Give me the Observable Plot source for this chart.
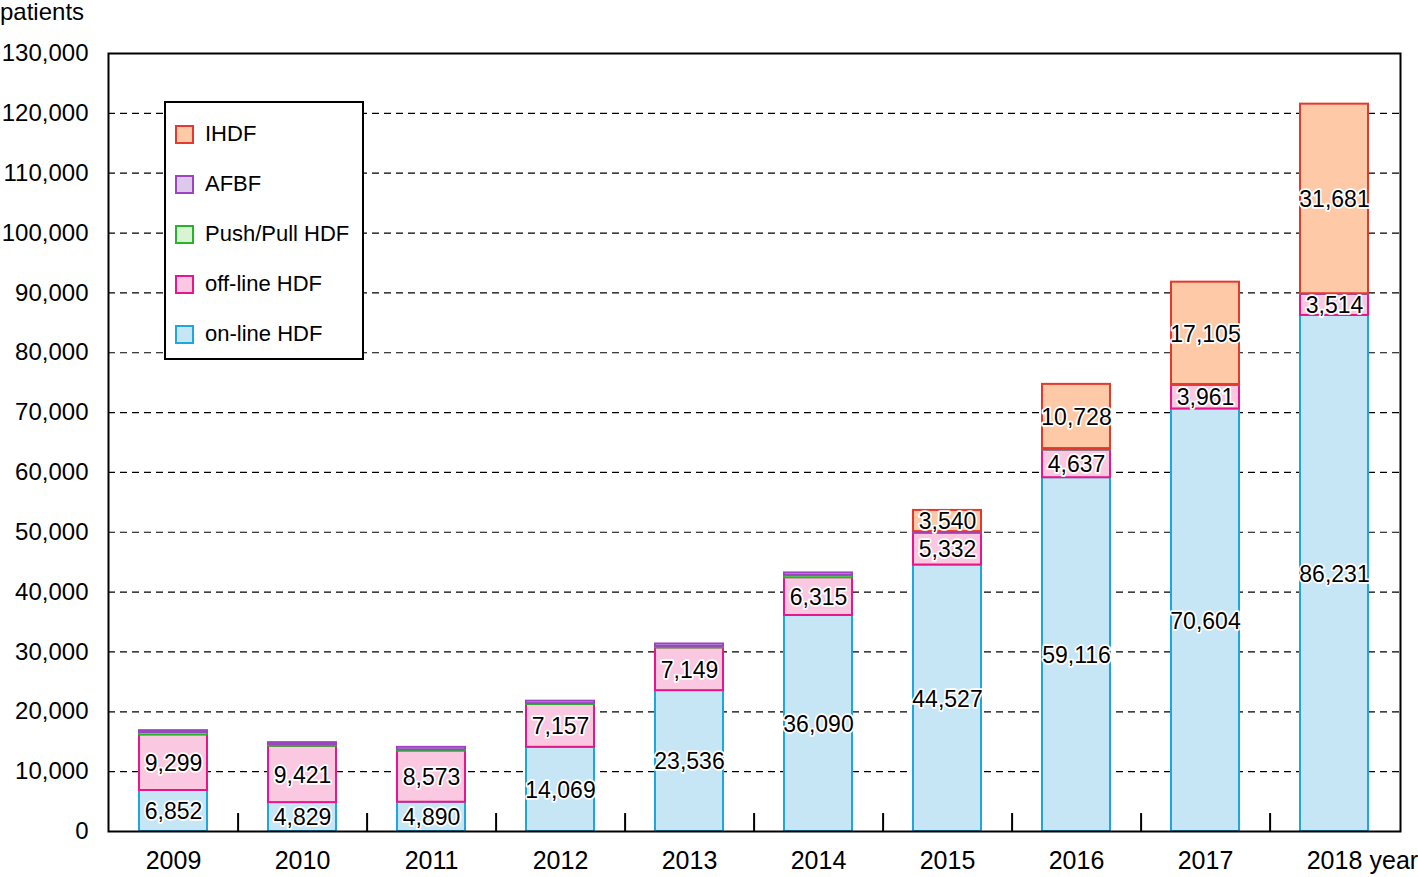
<!DOCTYPE html>
<html>
<head>
<meta charset="utf-8">
<script src="https://cdn.jsdelivr.net/npm/d3@7"></script>
<script src="https://cdn.jsdelivr.net/npm/@observablehq/plot@0.6"></script>
<style>
  body { margin: 0; background: #fff; font-family: "Liberation Sans", Arial, sans-serif; }
  #wrap { position: relative; width: 1418px; height: 877px; }
  #ylabel { position: absolute; left: 0; top: -1px; font-size: 24px; line-height: 26px; color: #000; }
  #legend { position: absolute; left: 164px; top: 101px; width: 196px; height: 255px; border: 2px solid #000; background: #fff; }
  .item { position: absolute; left: 9px; height: 24px; display: flex; align-items: center; font-size: 22px; }
  .sw { width: 15px; height: 15px; border: 2px solid; margin-right: 11px; }
</style>
</head>
<body>
<div id="wrap">
  <div id="chart"></div>
  <div id="ylabel">patients</div>
  <div id="legend"></div>
</div>
<script>
const years = ["2009","2010","2011","2012","2013","2014","2015","2016","2017","2018"];
const onlineHDF  = [6852, 4829, 4890, 14069, 23536, 36090, 44527, 59116, 70604, 86231];
const offlineHDF = [9299, 9421, 8573, 7157, 7149, 6315, 5332, 4637, 3961, 3514];
const pushPullHDF = [400, 300, 200, 150, 250, 400, 50, 30, 20, 10];
const AFBF = [300, 300, 400, 400, 400, 400, 200, 200, 100, 100];
const IHDF = [0, 0, 0, 0, 0, 0, 3540, 10728, 17105, 31681];
const yTicks = d3.range(0, 130001, 10000);

const seriesNames = ["on-line HDF", "off-line HDF", "Push/Pull HDF", "AFBF", "IHDF"];
const seriesValues = [onlineHDF, offlineHDF, pushPullHDF, AFBF, IHDF];
const labelled = ["on-line HDF", "off-line HDF", "IHDF"];
const fills = ["#c6e6f6", "#fac8e1", "#d9f4d2", "#dcc9ec", "#fdc9a6"];
const strokes = ["#1ea7dc", "#e8168b", "#25b52a", "#9c44c2", "#e5392b"];

const fmt = d3.format(",");
const rows = [];
seriesNames.forEach((s, i) => {
  years.forEach((y, j) => {
    rows.push({year: y, series: s, value: seriesValues[i][j],
      label: labelled.includes(s) && seriesValues[i][j] > 0 ? fmt(seriesValues[i][j]) : ""});
  });
});

const W = 1418, H = 877;
const mL = 108, mR = 18;
const step = (W - mL - mR) / years.length;

const chart = Plot.plot({
  width: W, height: H,
  marginLeft: mL, marginRight: mR, marginTop: 53, marginBottom: 46,
  style: { fontFamily: "Liberation Sans, Arial, sans-serif", background: "#fff" },
  x: { domain: years, paddingInner: 0.47, paddingOuter: 0.235, label: null },
  y: { domain: [0, 130000], label: null },
  color: { domain: seriesNames, range: fills },
  marks: [
    Plot.ruleY(yTicks.filter(t => t > 0 && t < 130000), { stroke: "#000", strokeWidth: 1.2, strokeDasharray: "7,5" }),
    Plot.barY(rows, Plot.stackY({
      x: "year", y: "value", z: "series", order: seriesNames,
      fill: "series",
      stroke: d => strokes[seriesNames.indexOf(d.series)],
      strokeWidth: 2
    })),
    Plot.text(rows, Plot.stackY({
      x: "year", y: "value", z: "series", order: seriesNames,
      text: "label", fontSize: 23, fill: "#000", stroke: "#fff", strokeWidth: 3.5, dy: 1
    })),
    Plot.ruleX(years.slice(0, -1), { y1: 0, y2: 3000, dx: step / 2, stroke: "#000", strokeWidth: 2 }),
    Plot.axisY({ ticks: yTicks, tickFormat: fmt, tickSize: 0, tickPadding: 20, fontSize: 24, label: null }),
    Plot.axisX({ tickSize: 0, tickPadding: 20, fontSize: 25, label: null }),
    Plot.text(["2018"], { x: d => d, y: 0, text: () => "year", textAnchor: "start", lineAnchor: "top", dx: 35, dy: 20, fontSize: 25, fill: "#000" }),
    Plot.frame({ stroke: "#000", strokeWidth: 2 })
  ]
});
document.getElementById("chart").appendChild(chart);

const legend = document.getElementById("legend");
const legendOrder = ["IHDF", "AFBF", "Push/Pull HDF", "off-line HDF", "on-line HDF"];
legendOrder.forEach((s, k) => {
  const i = seriesNames.indexOf(s);
  const it = document.createElement("div");
  it.className = "item";
  it.style.top = (19 + k * 50) + "px";
  it.innerHTML = `<span class="sw" style="background:${fills[i]};border-color:${strokes[i]}"></span><span>${s}</span>`;
  legend.appendChild(it);
});
</script>
</body>
</html>
